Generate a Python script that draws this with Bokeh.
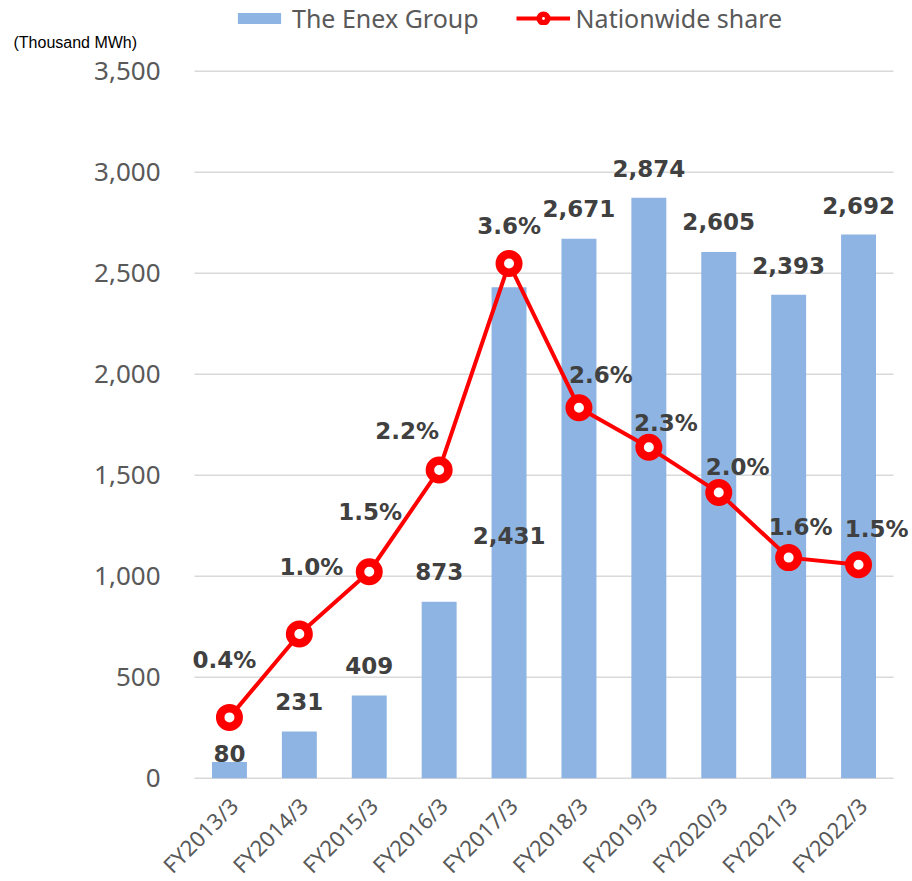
import math
from bokeh.plotting import figure
from bokeh.models import ColumnDataSource, Range1d, Legend, LegendItem, Label
from bokeh.embed import file_html
from bokeh.resources import INLINE
from bokeh.core.properties import value

# ---------------- data ----------------
categories = ["FY2013/3", "FY2014/3", "FY2015/3", "FY2016/3", "FY2017/3",
              "FY2018/3", "FY2019/3", "FY2020/3", "FY2021/3", "FY2022/3"]
enex_volume = [80, 231, 409, 873, 2431, 2671, 2874, 2605, 2393, 2692]      # thousand MWh
nationwide_share = [0.43, 1.02, 1.46, 2.18, 3.64, 2.62, 2.34, 2.02, 1.56, 1.51]  # %
y_ticks = [0, 500, 1000, 1500, 2000, 2500, 3000, 3500]
y_tick_labels = [f"{t:,}" for t in y_ticks]
volume_max = 3500
share_axis_max = 5.0   # hidden secondary axis (0 - 5 %)
series_names = ["The Enex Group", "Nationwide share"]
unit_label = "(Thousand MWh)"

# ---------------- style / placement ----------------
bar_label_dy = [-8.5, -30, -30, -30, 248, -30, -29, -30, -29, -29]
share_label_dx = [-5, 12, 1, -32, 0, 22, 17, 19, 12, 18]
share_label_dy = [-57, -67, -60, -39, -38, -33, -24, -26, -31, -36]

BAR_COLOR = "#8EB4E3"
RED = "#FF0000"
LABEL_COLOR = "#404040"
TICK_COLOR = "#595959"
GRID_COLOR = "#D9D9D9"

W, H = 912, 881
PX_PER_UNIT = 707 / volume_max      # 3,500 spans 707 px
ZERO_Y = 777.7                      # screen y of value 0
CAT_PX = 69.9                       # width of one category slot
LEFT = 194                          # left edge of the category area

# the frame covers the whole canvas; ranges place the plot area inside it
y_end = ZERO_Y / PX_PER_UNIT
y_start = -(H - ZERO_Y) / PX_PER_UNIT
ratio = volume_max / share_axis_max
x_start = -LEFT / CAT_PX
x_end = (W - LEFT) / CAT_PX

xs = [i + 0.5 for i in range(len(categories))]
src = ColumnDataSource(dict(
    x=xs,
    cat=categories,
    vol=enex_volume,
    share=nationwide_share,
    zero=[0] * len(categories),
    vol_label=[f"{v:,}" for v in enex_volume],
    share_label=[f"{s:.1f}%" for s in nationwide_share],
    bdy=bar_label_dy, sdx=share_label_dx, sdy=share_label_dy,
))
tick_src = ColumnDataSource(dict(y=y_ticks, label=y_tick_labels,
                                 x0=[0] * len(y_ticks),
                                 x1=[len(categories)] * len(y_ticks)))

p = figure(x_range=Range1d(x_start, x_end), y_range=Range1d(y_start, y_end),
           width=W, height=H, output_backend="svg", toolbar_location=None,
           min_border_left=0, min_border_right=0, min_border_top=0,
           min_border_bottom=0)
p.extra_y_ranges = {"share": Range1d(y_start / ratio, y_end / ratio)}
p.outline_line_color = None
p.background_fill_color = "white"
p.axis.visible = False
p.grid.visible = False

# value axis: gridlines and tick labels
p.segment(x0="x0", x1="x1", y0="y", y1="y", source=tick_src,
          line_color=GRID_COLOR, line_width=1.5)
p.text(x="x0", y="y", text="label", source=tick_src, x_offset=-34,
       text_align="right", text_baseline="middle",
       text_font=value("Noto Sans"), text_font_size="26px", text_color=TICK_COLOR)

# bars and share line
bars = p.vbar(x="x", top="vol", bottom=0, width=0.5, source=src,
              fill_color=BAR_COLOR, line_color=None)
line = p.line(x="x", y="share", source=src, y_range_name="share",
              line_color=RED, line_width=4, line_join="round")
pts = p.scatter(x="x", y="share", source=src, y_range_name="share",
                marker="circle", size=18.5, fill_color="white",
                line_color=RED, line_width=8.5)

# data labels
p.text(x="x", y="vol", text="vol_label", source=src, y_offset="bdy",
       text_font=value("DejaVu Sans"), text_font_style="bold",
       text_font_size="23px", text_color=LABEL_COLOR,
       text_align="center", text_baseline="middle")
p.text(x="x", y="share", text="share_label", source=src, y_range_name="share",
       x_offset="sdx", y_offset="sdy",
       text_font=value("DejaVu Sans"), text_font_style="bold",
       text_font_size="23px", text_color=LABEL_COLOR,
       text_align="center", text_baseline="middle")

# category labels rotated 45 degrees
p.text(x="x", y="zero", text="cat", source=src, angle=math.pi / 4,
       x_offset=4, y_offset=23, text_align="right", text_baseline="middle",
       text_font=value("Noto Sans"), text_font_size="22px",
       text_color=TICK_COLOR)

# legend
legend = Legend(items=[LegendItem(label=series_names[0], renderers=[bars]),
                       LegendItem(label=series_names[1], renderers=[line, pts])],
                orientation="horizontal", location=(232, H - 35),
                glyph_width=54, glyph_height=14, label_standoff=6, spacing=37,
                padding=0, margin=0, border_line_color=None,
                background_fill_alpha=0,
                label_text_font="Noto Sans", label_text_font_size="25px",
                label_text_color=TICK_COLOR)
p.add_layout(legend)

# unit label
p.add_layout(Label(x=13, y=H - 42, x_units="screen", y_units="screen",
                   text=unit_label, text_font="Liberation Sans",
                   text_font_size="16px", text_color="#000000",
                   text_baseline="middle"))

open("out.html", "w").write(file_html(p, INLINE))
